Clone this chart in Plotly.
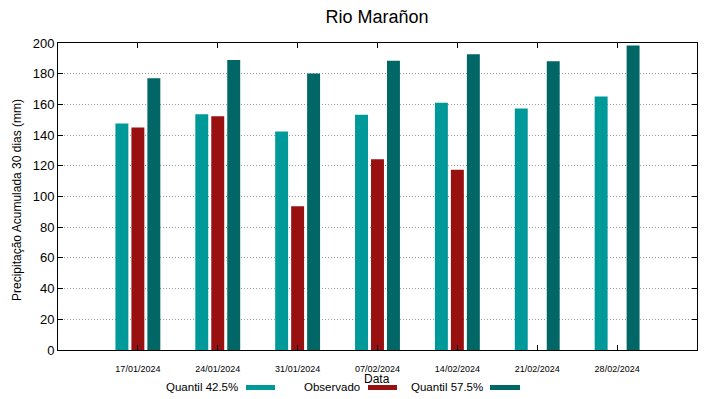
import plotly.graph_objects as go

dates = ["17/01/2024", "24/01/2024", "31/01/2024", "07/02/2024",
         "14/02/2024", "21/02/2024", "28/02/2024"]
q425 = [147.5, 153.6, 142.4, 153.2, 161.0, 157.3, 165.1]
observado = [145.0, 152.3, 93.6, 124.2, 117.5, None, None]
q575 = [177.0, 189.0, 180.1, 188.5, 192.6, 188.1, 198.3]

names = ["Quantil 42.5%", "Observado", "Quantil 57.5%"]
colors = ["#009999", "#991010", "#006666"]
series = [q425, observado, q575]

# page has an 8px body margin; positions below are in page pixels
OFF = 8
W, H = 719 - OFF, 399 - OFF
PL, PR, PT, PB = 58, 697, 43, 350
L, R, T, B = PL - OFF, W - (PR - OFF), PT - OFF, H - (PB - OFF)
pw, ph = PR - PL, PB - PT

fig = go.Figure()
for n, c, s in zip(names, colors, series):
    fig.add_trace(go.Bar(x=dates, y=s, name=n, marker=dict(color=c, line=dict(width=0)),
                         showlegend=False))

font = "Liberation Sans, Arial, sans-serif"

def px_x(x):
    return (x - PL) / pw

def px_y(y):
    return 1 - (y - PT) / ph

annotations = [
    dict(text="Data", x=px_x(377), y=px_y(379), xref="paper", yref="paper",
         showarrow=False, font=dict(size=12, color="black"), xanchor="center", yanchor="middle"),
    dict(text="Precipitação Acumulada 30 dias (mm)", x=px_x(17), y=px_y(200), xref="paper",
         yref="paper", showarrow=False, textangle=-90, font=dict(size=12, color="black"),
         xanchor="center", yanchor="middle"),
]
shapes = []
legend_text_right = [240, 362, 485]
legend_sample = [(246, 275), (368, 397), (490, 520)]
for n, c, tr, (s0, s1) in zip(names, colors, legend_text_right, legend_sample):
    annotations.append(dict(text=n, x=px_x(tr), y=px_y(387), xref="paper", yref="paper",
                            showarrow=False, xanchor="right", yanchor="middle",
                            font=dict(size=11.5, color="black")))
    shapes.append(dict(type="rect", xref="paper", yref="paper",
                       x0=px_x(s0), x1=px_x(s1), y0=px_y(385), y1=px_y(390),
                       fillcolor=c, line=dict(width=0)))

fig.update_layout(
    width=W, height=H,
    margin=dict(l=L, r=R, t=T, b=B, pad=0),
    paper_bgcolor="white", plot_bgcolor="white",
    font=dict(family=font, color="black"),
    title=dict(text="Rio Marañon", xref="paper", x=px_x(377), xanchor="center",
               yref="container", y=1 - (16.5 - OFF) / H, yanchor="middle",
               font=dict(size=18, color="black")),
    barmode="group", bargap=0.4, bargroupgap=0.19,
    annotations=annotations, shapes=shapes,
)
fig.update_xaxes(type="category", range=[-1, 7], showline=True, linecolor="black", linewidth=1,
                 mirror="allticks", ticks="inside", ticklen=5, tickcolor="black",
                 showgrid=False, tickfont=dict(size=9, color="black"), ticklabelstandoff=10)
fig.update_yaxes(range=[0, 200], dtick=20, showline=True, linecolor="black", linewidth=1,
                 mirror="allticks", ticks="inside", ticklen=5, tickcolor="black",
                 showgrid=True, gridcolor="#999999", griddash="1px,2px", gridwidth=1,
                 zeroline=False, tickfont=dict(size=13, color="black"))

fig.write_html("out.html")
